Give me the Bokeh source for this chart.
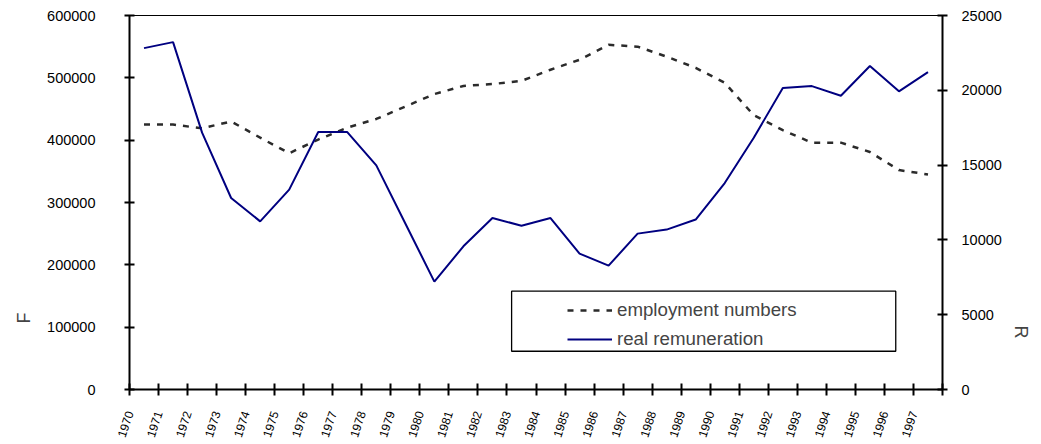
import math
from bokeh.plotting import figure
from bokeh.models import (Range1d, LinearAxis, FixedTicker, NumeralTickFormatter,
                          Legend, LegendItem, BoxAnnotation, Title, ColumnDataSource)
from bokeh.embed import file_html
from bokeh.resources import INLINE

years = list(range(1970, 1998))
employment = [425000, 425000, 419000, 430000, 404000, 379000, 401000, 420000,
              434000, 454000, 474000, 487000, 490000, 495000, 513000, 529000,
              553000, 550000, 534000, 516000, 492000, 440000, 416000, 396000,
              396000, 381000, 352000, 345000]
remuneration = [22820, 23220, 17170, 12800, 11240, 13360, 17210, 17210,
                14980, 11100, 7210, 9570, 11460, 10950, 11460, 9080,
                8280, 10420, 10690, 11360, 13800, 16830, 20150, 20280,
                19640, 21620, 19930, 21220]
left_ticks = [0, 100000, 200000, 300000, 400000, 500000, 600000]
right_ticks = [0, 5000, 10000, 15000, 20000, 25000]
series_names = ["employment numbers", "real remuneration"]
left_title = "F"
right_title = "R"

FONT = "Liberation Sans"
n = len(years)
src = ColumnDataSource(dict(x=[i + 0.5 for i in range(n)], emp=employment, rem=remuneration))

p = figure(width=1041, height=444, x_range=Range1d(0, n), y_range=Range1d(0, 600000),
           output_backend="svg", toolbar_location=None, title=None,
           x_axis_type=None, y_axis_type=None,
           min_border_left=127, min_border_right=99, min_border_top=15, min_border_bottom=55)
p.extra_y_ranges = {"r": Range1d(0, 25000)}
p.outline_line_color = "black"
p.outline_line_width = 1
p.background_fill_color = "white"
p.border_fill_color = "white"


def style(ax, size="14.5px"):
    ax.axis_line_width = 2
    ax.axis_line_color = "black"
    ax.major_tick_line_width = 2
    ax.major_tick_line_color = "black"
    ax.minor_tick_line_color = None
    ax.major_label_text_font = FONT
    ax.major_label_text_font_size = size
    ax.major_label_text_color = "black"


xaxis = LinearAxis(ticker=FixedTicker(ticks=list(range(n + 1))))
overrides = {i: str(y) for i, y in enumerate(years)}
overrides[n] = ""
xaxis.major_label_overrides = overrides
style(xaxis, "12px")
xaxis.major_tick_in = 6
xaxis.major_tick_out = 6
xaxis.major_label_standoff = 16
xaxis.major_label_orientation = 1.25
p.add_layout(xaxis, "below")

laxis = LinearAxis(ticker=FixedTicker(ticks=left_ticks), formatter=NumeralTickFormatter(format="0"))
style(laxis)
laxis.major_tick_in = 5
laxis.major_tick_out = 5
laxis.major_label_standoff = 29
p.add_layout(laxis, "left")

raxis = LinearAxis(y_range_name="r", ticker=FixedTicker(ticks=right_ticks),
                   formatter=NumeralTickFormatter(format="0"))
style(raxis)
raxis.major_tick_in = 5
raxis.major_tick_out = 5
raxis.major_label_standoff = 14
p.add_layout(raxis, "right")

r_emp = p.line("x", "emp", source=src, line_color="#2b2b2b", line_width=2.5, line_dash="6 7")
r_rem = p.line("x", "rem", source=src, y_range_name="r", line_color="#000080", line_width=2)

box = BoxAnnotation(left=13.16, right=26.39, bottom=61400, top=157700,
                    fill_color="white", fill_alpha=1, line_color="black", line_alpha=1,
                    line_width=1.3)
p.add_layout(box)

legend = Legend(items=[LegendItem(label=series_names[0], renderers=[r_emp]),
                       LegendItem(label=series_names[1], renderers=[r_rem])],
                location=(438, 39), padding=0, spacing=7, glyph_width=45, glyph_height=20,
                label_height=20, label_standoff=5, label_text_font=FONT,
                label_text_font_size="18.7px", border_line_color=None, background_fill_alpha=0)
p.add_layout(legend, "center")

p.add_layout(Title(text=left_title, align="left", offset=66, standoff=22,
                   text_font=FONT, text_font_size="18px", text_font_style="normal"), "left")
p.add_layout(Title(text=right_title, align="right", offset=51, standoff=12,
                   text_font=FONT, text_font_size="18px", text_font_style="normal"), "right")

open("out.html", "w").write(file_html(p, INLINE))
